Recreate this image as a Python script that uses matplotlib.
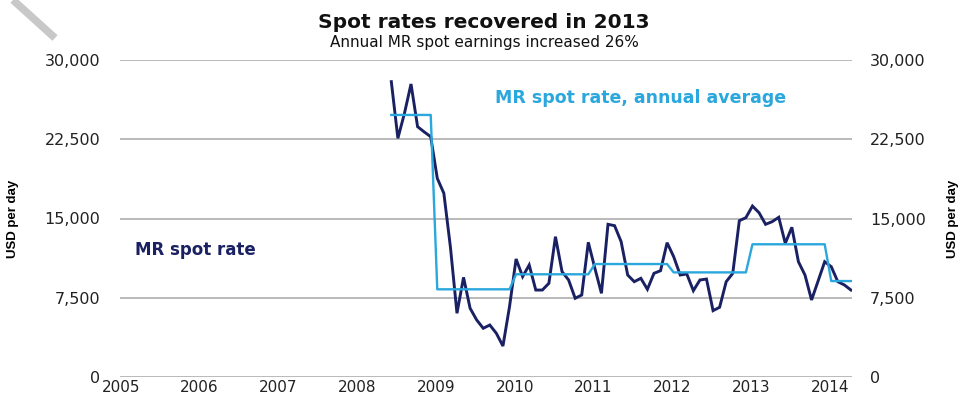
import matplotlib
matplotlib.use("Agg")
import matplotlib.pyplot as plt
from matplotlib.lines import Line2D
import numpy as np
import pandas as pd

# ---- data ----
start_month = "2008-06"
spot_rate = [27950, 22590, 24950, 27730, 23690, 23200, 22740,           # 2008 Jun-Dec
             18800, 17390, 12300, 6030, 9430, 6500, 5400, 4610, 4920, 4130, 2930, 6650,   # 2009
             11170, 9500, 10600, 8230, 8230, 8870, 13280, 9970, 9180, 7450, 7760, 12750,  # 2010
             10290, 7920, 14450, 14320, 12810, 9650, 9020, 9340, 8300, 9810, 10060, 12710,  # 2011
             11390, 9650, 9750, 8170, 9180, 9270, 6280, 6600, 9020, 9810, 14790, 15080,   # 2012
             16180, 15550, 14450, 14700, 15110, 12650, 14170, 10910, 9650, 7290, 9090, 10910,  # 2013
             10440, 9020, 8710, 8230]                                                         # 2014
avg_years = [2008, 2009, 2010, 2011, 2012, 2013, 2014]
annual_avg = [24800, 8300, 9720, 10690, 9900, 12560, 9080]
year_ticks = list(range(2005, 2015))
y_ticks = [0, 7500, 15000, 22500, 30000]

title = "Spot rates recovered in 2013"
subtitle = "Annual MR spot earnings increased 26%"
ylabel = "USD per day"
label_spot = "MR spot rate"
label_avg = "MR spot rate, annual average"

# ---- derived ----
dates = pd.period_range(start_month, periods=len(spot_rate), freq="M")
xdec = np.array([d.year + (d.month - 0.8) / 12 for d in dates])
avg_map = dict(zip(avg_years, annual_avg))
avg_series = [avg_map[d.year] for d in dates]

navy = "#1a2163"
cyan = "#2aa7dc"
grid = "#b4b4b4"
tick_col = "#222222"

fig = plt.figure(figsize=(9.61, 3.99), dpi=100)
ax = fig.add_axes([120 / 961, 1 - 377 / 399, (852 - 120) / 961, (377 - 60) / 399])

for yv in y_ticks:
    ax.axhline(yv, color=grid, lw=1.3, zorder=1)

ax.plot(xdec, spot_rate, color=navy, lw=2.1, zorder=3, solid_joinstyle="miter")
ax.plot(xdec, avg_series, color=cyan, lw=1.7, zorder=4)

ax.set_xlim(2004.99, 2014.28)
ax.set_ylim(0, 30000)
ax.set_yticks(y_ticks)
ax.set_yticklabels([f"{v:,}" for v in y_ticks])
ax.set_xticks(year_ticks)
ax.set_xticklabels([str(y) for y in year_ticks])
for s in ax.spines.values():
    s.set_visible(False)
ax.tick_params(axis="y", length=0, pad=14, labelsize=11.5, labelcolor=tick_col)
ax.tick_params(axis="x", length=0, pad=2.5, labelsize=11, labelcolor=tick_col)

ax2 = ax.twinx()
ax2.set_ylim(0, 30000)
ax2.set_yticks(y_ticks)
ax2.set_yticklabels([f"{v:,}" for v in y_ticks])
for s in ax2.spines.values():
    s.set_visible(False)
ax2.tick_params(axis="y", length=0, pad=13, labelsize=11.5, labelcolor=tick_col)

ax.set_ylabel(ylabel, fontsize=9.5, fontweight="bold", family="Liberation Sans")
ax.yaxis.set_label_coords(-101 / 732, 0.5)
ax2.set_ylabel(ylabel, fontsize=9.5, fontweight="bold", family="Liberation Sans", rotation=90)
ax2.yaxis.set_label_coords(1 + 95 / 732, 0.5)

ax.text(2005.18, 12000, label_spot, color=navy, fontsize=12, fontweight="bold", va="center", ha="left")
ax.text(2009.75, 26400, label_avg, color=cyan, fontsize=12.5, fontweight="bold", va="center", ha="left")

fig.text(484 / 961, 1 - 23 / 399, title, ha="center", va="center", fontsize=14.5, fontweight="bold", color="#111111")
fig.text(484 / 961, 1 - 42 / 399, subtitle, ha="center", va="center", fontsize=11, color="#111111")

# scan artifact stroke in the top-left corner
fig.add_artist(Line2D([13 / 961, 55 / 961], [1.0, 1 - 38 / 399], transform=fig.transFigure,
                      color="#c8c8c8", lw=5.5, solid_capstyle="butt"))

fig.savefig("out.png", dpi=100)
